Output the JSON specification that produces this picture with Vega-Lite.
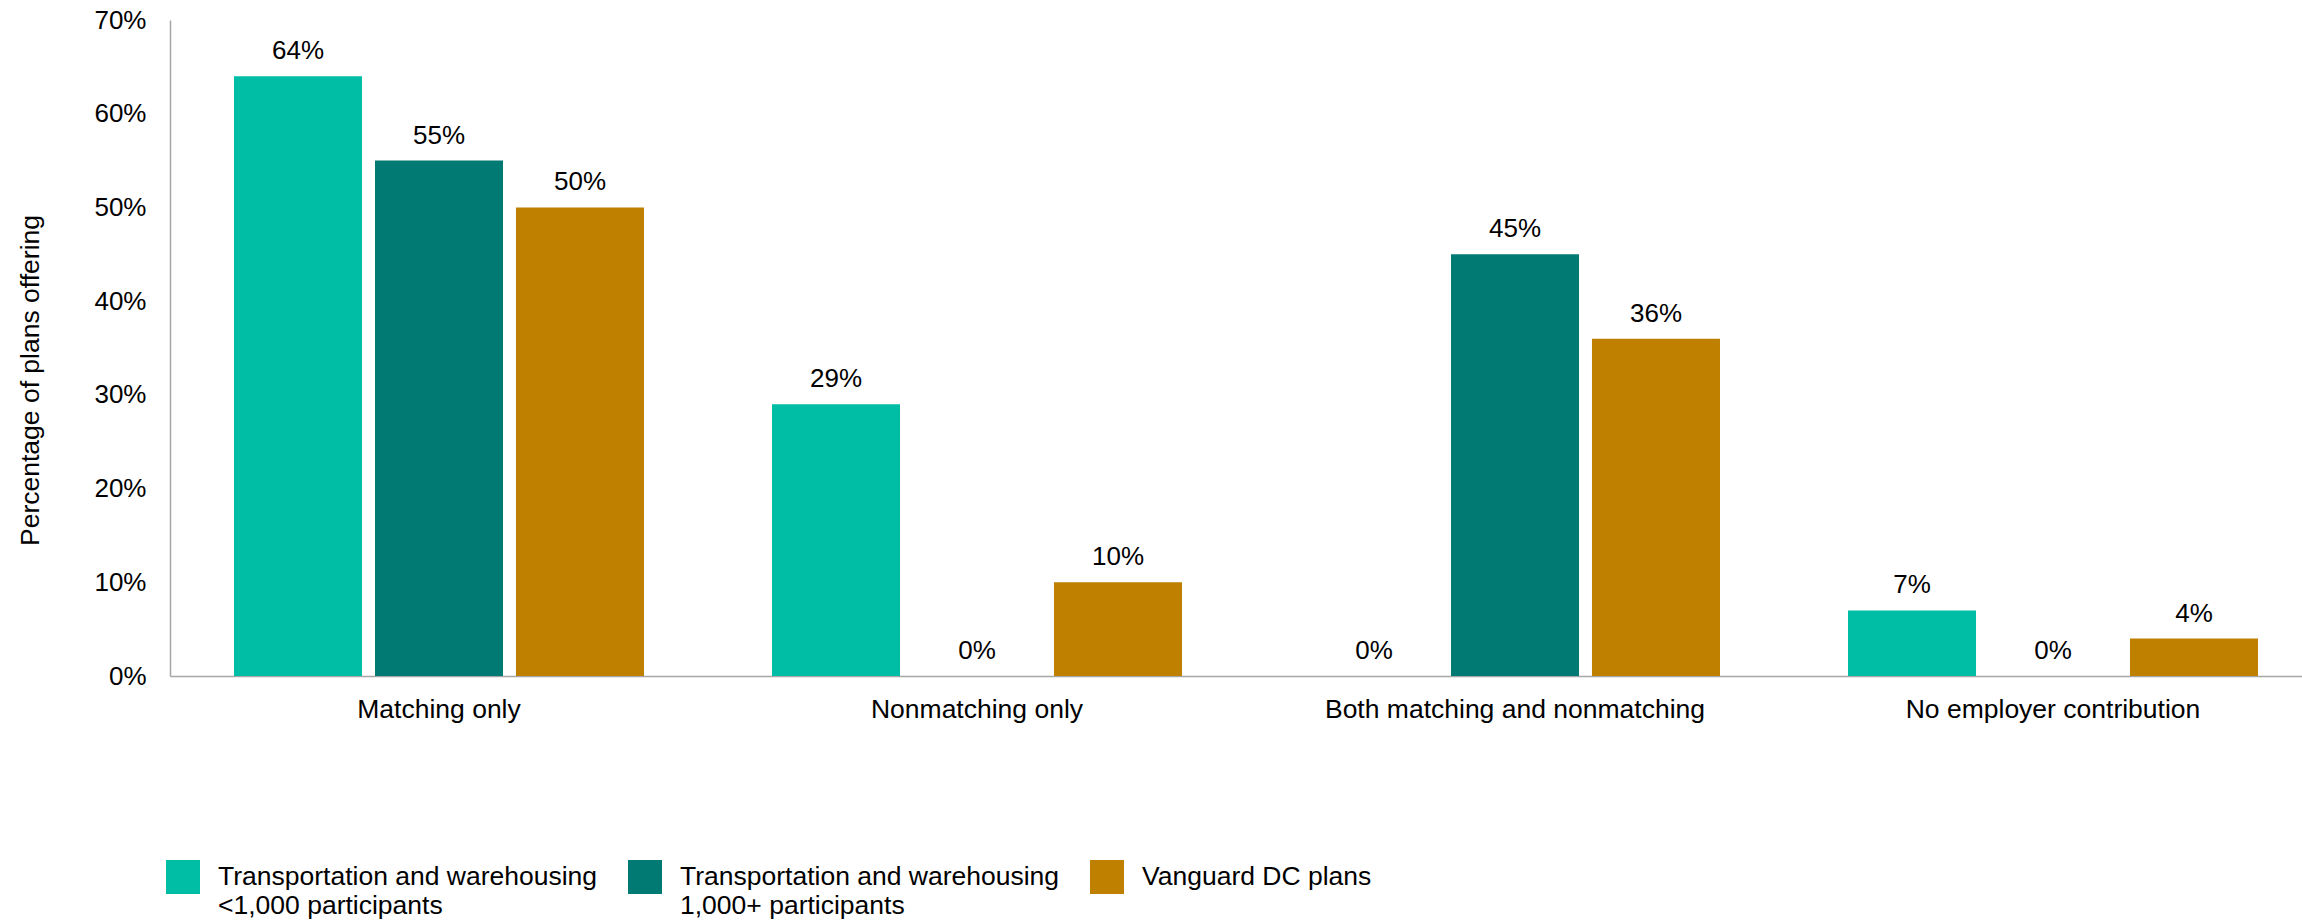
{
  "$schema": "https://vega.github.io/schema/vega-lite/v6.json",
  "autosize": {"type": "none"},
  "padding": {"left": 170, "top": 20, "right": 0, "bottom": 245},
  "width": 2132,
  "height": 656,
  "background": "white",
  "config": {
    "font": "Liberation Sans",
    "view": {"stroke": null}
  },
  "data": {
    "values": [
      {"category": "Matching only", "series": "Transportation and warehousing|\u00a0<1,000 participants", "value": 0.64},
      {"category": "Matching only", "series": "Transportation and warehousing|1,000+ participants", "value": 0.55},
      {"category": "Matching only", "series": "Vanguard DC plans|", "value": 0.50},
      {"category": "Nonmatching only", "series": "Transportation and warehousing|\u00a0<1,000 participants", "value": 0.29},
      {"category": "Nonmatching only", "series": "Transportation and warehousing|1,000+ participants", "value": 0.0},
      {"category": "Nonmatching only", "series": "Vanguard DC plans|", "value": 0.10},
      {"category": "Both matching and nonmatching", "series": "Transportation and warehousing|\u00a0<1,000 participants", "value": 0.0},
      {"category": "Both matching and nonmatching", "series": "Transportation and warehousing|1,000+ participants", "value": 0.45},
      {"category": "Both matching and nonmatching", "series": "Vanguard DC plans|", "value": 0.36},
      {"category": "No employer contribution", "series": "Transportation and warehousing|\u00a0<1,000 participants", "value": 0.07},
      {"category": "No employer contribution", "series": "Transportation and warehousing|1,000+ participants", "value": 0.0},
      {"category": "No employer contribution", "series": "Vanguard DC plans|", "value": 0.04}
    ]
  },
  "encoding": {
    "x": {
      "field": "category",
      "type": "nominal",
      "sort": ["Matching only", "Nonmatching only", "Both matching and nonmatching", "No employer contribution"],
      "scale": {"range": [0, 2152], "paddingInner": 0, "paddingOuter": 0},
      "axis": {
        "title": null,
        "labelAngle": 0,
        "labelFontSize": 26.5,
        "labelColor": "black",
        "labelPadding": 20,
        "labelLimit": 1000,
        "ticks": false,
        "grid": false,
        "domainColor": "#a6a6a6",
        "domainWidth": 1.5
      }
    },
    "xOffset": {
      "field": "series",
      "type": "nominal",
      "sort": ["Transportation and warehousing|\u00a0<1,000 participants", "Transportation and warehousing|1,000+ participants", "Vanguard DC plans|"],
      "scale": {"paddingInner": 0.092, "paddingOuter": 0.454}
    },
    "y": {
      "field": "value",
      "type": "quantitative",
      "scale": {"domain": [0, 0.7]},
      "axis": {
        "values": [0, 0.1, 0.2, 0.3, 0.4, 0.5, 0.6, 0.7],
        "format": ".0%",
        "title": "Percentage of plans offering",
        "titleFontSize": 26.5,
        "titleFontWeight": "normal",
        "titleColor": "black",
        "titleAngle": -90,
        "titleAlign": "center",
        "titleBaseline": "alphabetic",
        "titleX": -132,
        "titleY": 360,
        "labelFontSize": 26,
        "labelColor": "black",
        "labelPadding": 24,
        "ticks": false,
        "grid": false,
        "domainColor": "#a6a6a6",
        "domainWidth": 1.5
      }
    }
  },
  "layer": [
    {
      "mark": {"type": "bar"},
      "encoding": {
        "color": {
          "field": "series",
          "type": "nominal",
          "scale": {
            "domain": ["Transportation and warehousing|\u00a0<1,000 participants", "Transportation and warehousing|1,000+ participants", "Vanguard DC plans|"],
            "range": ["#00bda5", "#007a73", "#bf8000"]
          },
          "legend": {
            "orient": "none",
            "legendX": -4,
            "legendY": 840,
            "direction": "horizontal",
            "title": null,
            "labelFontSize": 26.5,
            "labelColor": "black",
            "labelExpr": "split(datum.label, '|')",
            "labelLimit": 600,
            "symbolType": "square",
            "symbolSize": 1156,
            "symbolStrokeWidth": 0,
            "symbolOpacity": 1,
            "labelOffset": 18,
            "columnPadding": 30,
            "padding": 0
          }
        }
      }
    },
    {
      "mark": {"type": "text", "baseline": "alphabetic", "dy": -17, "fontSize": 26, "color": "black"},
      "encoding": {
        "text": {"field": "value", "type": "quantitative", "format": ".0%"}
      }
    }
  ]
}
